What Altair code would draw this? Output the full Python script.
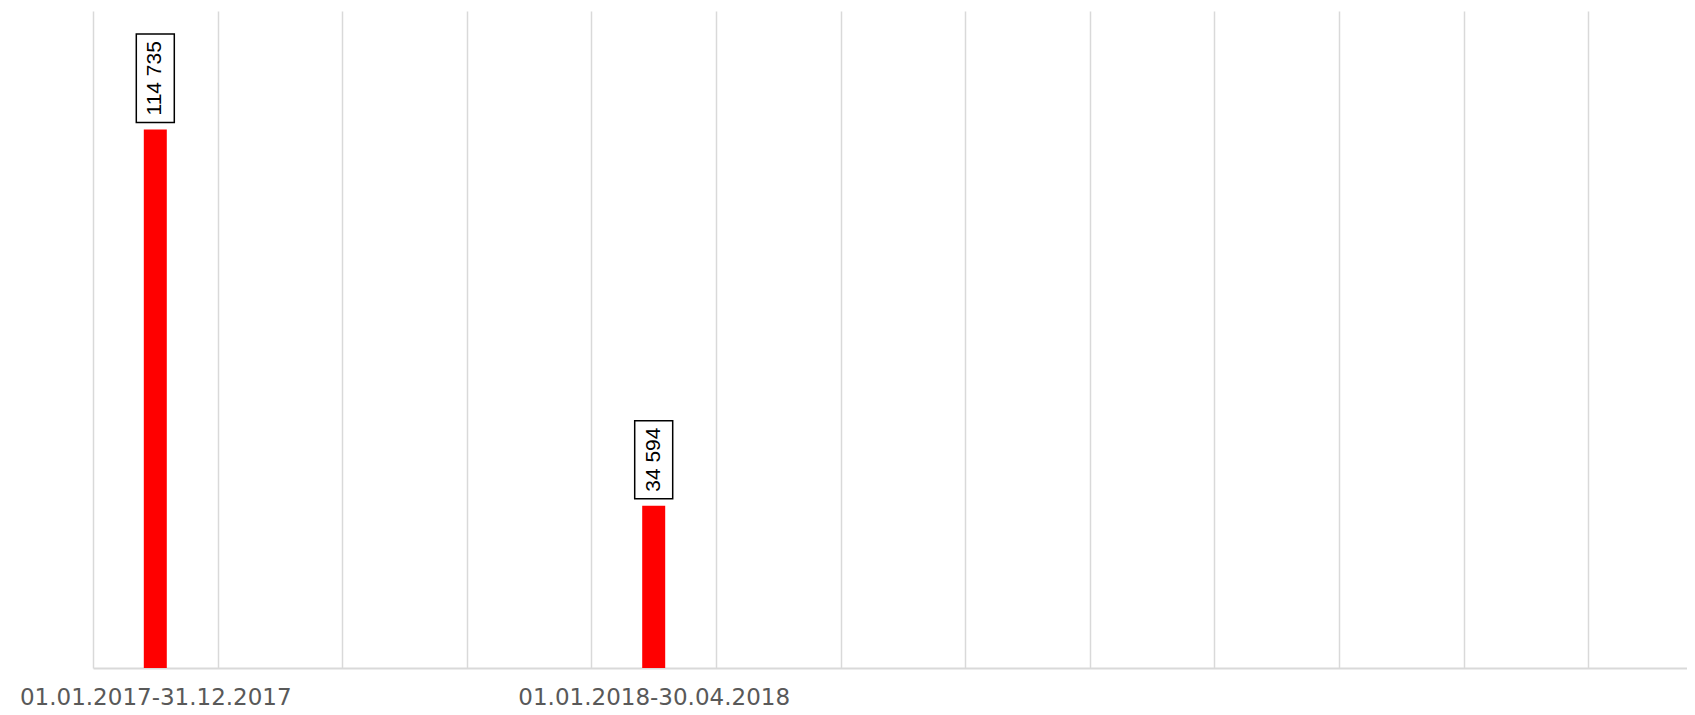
import altair as alt
import pandas as pd

# Data
period_labels = ["01.01.2017-31.12.2017", "01.01.2018-30.04.2018"]
period_slots = [0, 4]            # category slot (band index) of each period
period_values = [114735, 34594]
y_max = 140000

value_text = [f"{v:,}".replace(",", " ") for v in period_values]

df = pd.DataFrame({
    "label": period_labels,
    "slot": period_slots,
    "value": period_values,
    "vtext": value_text,
})

W, H = 1594, 657
band_px = 124.6
n_slots_visible = W / band_px   # the chart is cut at the right edge
upp = y_max / H  # data units per pixel

grid_vals = list(range(0, 13))
label_vals = [s + 0.5 for s in period_slots]
tick_vals = sorted(grid_vals + label_vals)

label_expr = " : ".join(
    [f"datum.value == {s + 0.5} ? '{l}'" for s, l in zip(period_slots, period_labels)]
) + " : ''"

base = alt.Chart(df).transform_calculate(
    xc="datum.slot + 0.5",
    boxb=f"datum.value + 7 * {upp}",
    boxt=f"datum.value + 7 * {upp} + (length(datum.vtext) * 10.5 + 15) * {upp}",
).transform_calculate(
    boxm="(datum.boxb + datum.boxt) / 2"
)

xscale = alt.Scale(domain=[0, n_slots_visible], nice=False, zero=False, padding=0)
yscale = alt.Scale(domain=[0, y_max], nice=False, padding=0)

bars = base.mark_bar(color="#ff0000", size=23).encode(
    x=alt.X("xc:Q", scale=xscale, title=None,
            axis=alt.Axis(
                values=tick_vals,
                labelExpr=label_expr,
                ticks=False,
                grid=True,
                gridColor={"condition": {"test": "datum.value % 1 !== 0", "value": "transparent"},
                           "value": "#d9d9d9"},
                gridWidth=1.5,
                domainColor="#d9d9d9",
                domainWidth=2,
                labelFont="DejaVu Sans",
                labelFontSize=23,
                labelColor="#595959",
                labelPadding=18,
                labelLimit=0,
                labelOverlap=False,
                labelFlush=False,
            )),
    y=alt.Y("value:Q", scale=yscale, title=None, axis=None),
)

boxes = base.mark_rect(
    fill="white", stroke="black", strokeWidth=1.5, xOffset=-19, x2Offset=19
).encode(
    x=alt.X("xc:Q", scale=xscale),
    x2="xc:Q",
    y=alt.Y("boxb:Q", scale=yscale, axis=None),
    y2="boxt:Q",
)

texts = base.mark_text(
    angle=270, align="center", baseline="middle", font="Liberation Sans",
    fontSize=21, color="black"
).encode(
    x=alt.X("xc:Q", scale=xscale),
    y=alt.Y("boxm:Q", scale=yscale, axis=None),
    text="vtext:N",
)

chart = alt.layer(bars, boxes, texts).properties(
    width=W, height=H,
    autosize=alt.AutoSizeParams(type="none"),
    padding={"left": 85, "top": 3, "right": 0, "bottom": 46},
    background="white",
).configure_view(stroke=None)

chart.save("out.html", embed_options={"renderer": "svg", "actions": False})
